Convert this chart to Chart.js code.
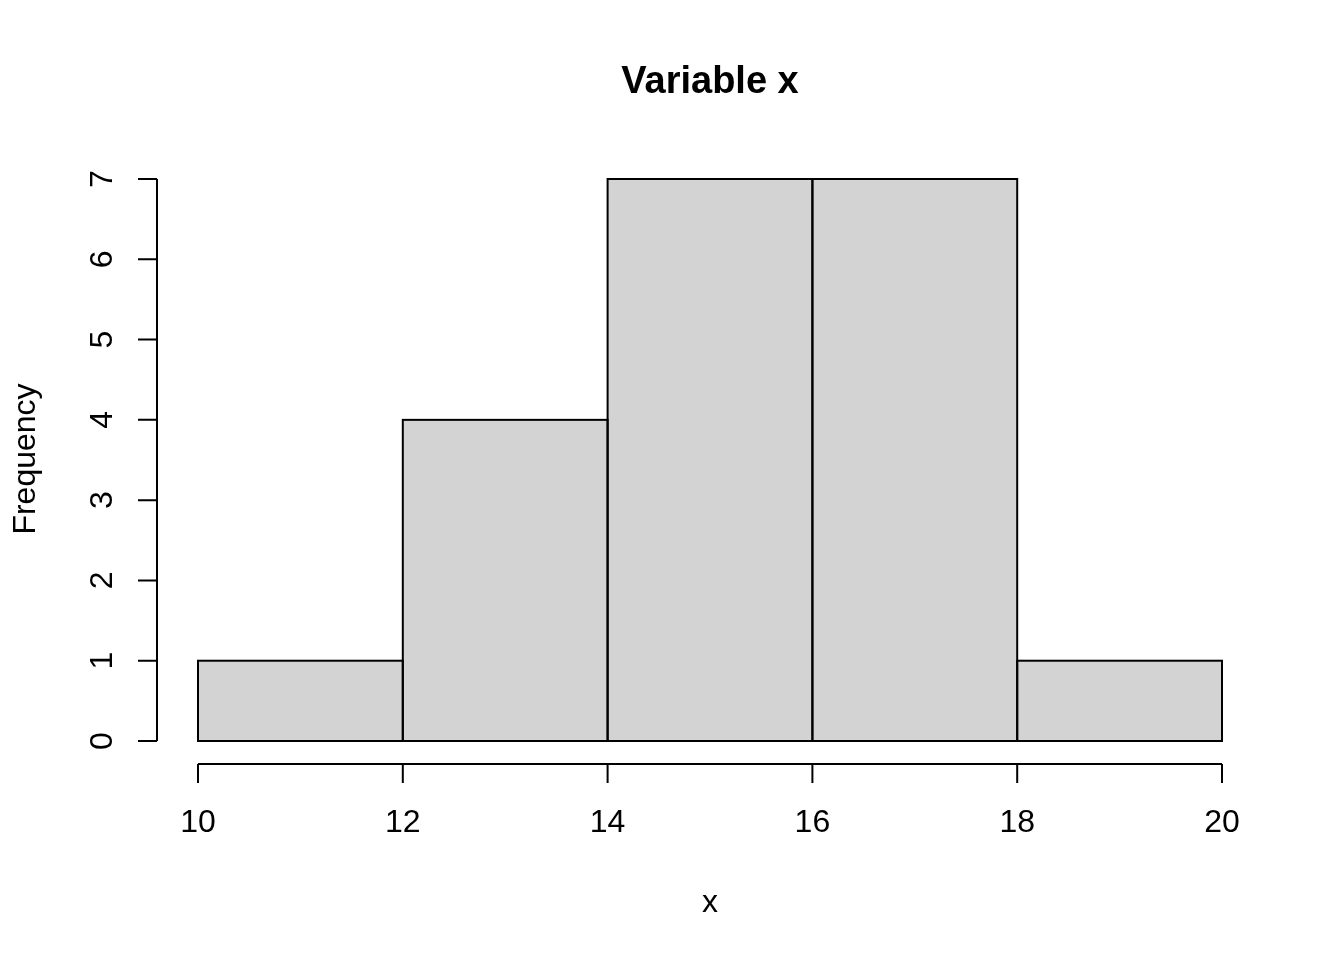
<!doctype html>
<html>

<head>
    <title>Variable x</title>
    <script src="https://cdn.jsdelivr.net/npm/chart.js@4"></script>
	<style>
	body { margin: 0; background: #fff; }
	canvas { display: block; }
	</style>
</head>

<body>
	<canvas id="hist" width="1344" height="960"></canvas>
	<script>
		// histogram data
		var breaks = [10, 12, 14, 16, 18, 20];
		var counts = [1, 4, 7, 7, 1];
		var yTicks = [0, 1, 2, 3, 4, 5, 6, 7];
		var xTicks = [10, 12, 14, 16, 18, 20];
		var title = 'Variable x';
		var xLabel = 'x';
		var yLabel = 'Frequency';

		var points = [];
		for (let i = 0; i < counts.length; i++) {
			points.push({ x: (breaks[i] + breaks[i + 1]) / 2, y: counts[i] });
		}

		var FONT = '"Liberation Sans", Arial, sans-serif';

		// R style base graphics: detached axes, rotated y labels, outlined bars
		var rAxes = {
			id: 'rAxes',
			afterDatasetsDraw: function(chart) {
				var ctx = chart.ctx;
				var xs = chart.scales.x, ys = chart.scales.y;
				var meta = chart.getDatasetMeta(0);
				ctx.save();
				ctx.strokeStyle = '#000';
				ctx.lineWidth = 2;
				ctx.lineCap = 'square';
				meta.data.forEach(function(bar) {
					var p = bar.getProps(['x', 'y', 'base', 'width'], true);
					ctx.strokeRect(p.x - p.width / 2, p.y, p.width, p.base - p.y);
				});
				ctx.lineCap = 'butt';

				// y axis
				var ax = chart.chartArea.left - 41;
				ctx.beginPath();
				ctx.moveTo(ax, ys.getPixelForValue(yTicks[0]));
				ctx.lineTo(ax, ys.getPixelForValue(yTicks[yTicks.length - 1]));
				yTicks.forEach(function(t) {
					var py = ys.getPixelForValue(t);
					ctx.moveTo(ax, py);
					ctx.lineTo(ax - 19, py);
				});
				ctx.stroke();
				ctx.fillStyle = '#000';
				ctx.font = '32px ' + FONT;
				ctx.textAlign = 'center';
				ctx.textBaseline = 'alphabetic';
				yTicks.forEach(function(t) {
					ctx.save();
					ctx.translate(ax - 45, ys.getPixelForValue(t));
					ctx.rotate(-Math.PI / 2);
					ctx.fillText(String(t), 0, 0);
					ctx.restore();
				});

				// x axis
				var ay = chart.chartArea.bottom + 23;
				ctx.beginPath();
				ctx.moveTo(xs.getPixelForValue(xTicks[0]), ay);
				ctx.lineTo(xs.getPixelForValue(xTicks[xTicks.length - 1]), ay);
				xTicks.forEach(function(t) {
					var px = xs.getPixelForValue(t);
					ctx.moveTo(px, ay);
					ctx.lineTo(px, ay + 19);
				});
				ctx.stroke();
				xTicks.forEach(function(t) {
					ctx.fillText(String(t), xs.getPixelForValue(t), ay + 68);
				});

				// labels
				var cx = (chart.chartArea.left + chart.chartArea.right) / 2;
				ctx.fillText(xLabel, cx, 912);
				ctx.save();
				ctx.translate(35, 459);
				ctx.rotate(-Math.PI / 2);
				ctx.fillText(yLabel, 0, 0);
				ctx.restore();
				ctx.font = 'bold 38px ' + FONT;
				ctx.fillText(title, cx, 93);
				ctx.restore();
			}
		};

		var config = {
			type: 'bar',
			data: {
				datasets: [{
					data: points,
					backgroundColor: '#d3d3d3',
					borderWidth: 0,
					barPercentage: 1,
					categoryPercentage: 1
				}]
			},
			options: {
				responsive: false,
				animation: false,
				devicePixelRatio: 1,
				layout: {
					padding: { left: 198, right: 122, top: 179, bottom: 219 }
				},
				plugins: {
					legend: { display: false },
					tooltip: { enabled: false }
				},
				scales: {
					x: {
						type: 'linear', min: 10, max: 20, offset: false, display: false,
						afterBuildTicks: function(scale) {
							scale.ticks = xTicks.map(function(v) { return { value: v }; });
						}
					},
					y: { type: 'linear', min: 0, max: 7, display: false }
				}
			},
			plugins: [rAxes]
		};

		window.onload = function() {
			var ctx = document.getElementById('hist').getContext('2d');
			window.myHist = new Chart(ctx, config);
		};
	</script>
</body>

</html>
